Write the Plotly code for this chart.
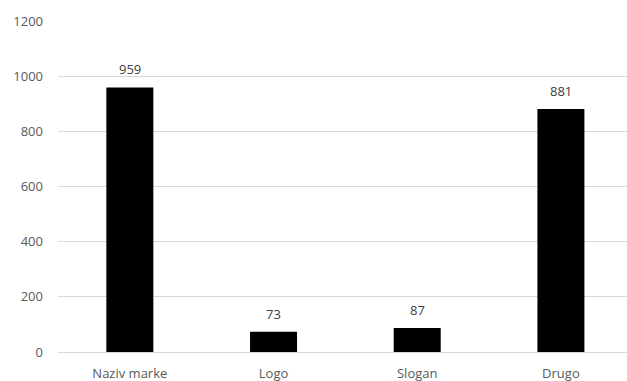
import plotly.graph_objects as go

categories = ["Naziv marke", "Logo", "Slogan", "Drugo"]
values = [959, 73, 87, 881]
y_ticks = [0, 200, 400, 600, 800, 1000, 1200]

fig = go.Figure()
fig.add_trace(go.Bar(
    x=list(range(len(categories))), y=values,
    marker=dict(color="#000000", line=dict(width=0)),
    width=0.327,
))
for i, v in enumerate(values):
    fig.add_annotation(x=i, y=v, text=str(v), showarrow=False,
                       yanchor="bottom", yshift=7,
                       font=dict(family="Open Sans, sans-serif", size=13, color="#404040"))

fig.update_layout(
    width=627, height=381,
    margin=dict(l=58, r=0, t=21, b=29),
    plot_bgcolor="white", paper_bgcolor="white",
    showlegend=False,
    font=dict(family="Open Sans, sans-serif", size=13, color="#595959"),
)
fig.update_xaxes(
    tickmode="array", tickvals=list(range(len(categories))), ticktext=categories,
    range=[-0.5, 3.46], showgrid=False, zeroline=False, showline=False,
    ticks="", ticklabelstandoff=12,
)
fig.update_yaxes(
    range=[0, 1200], tickvals=y_ticks, showgrid=True, gridcolor="#d9d9d9", gridwidth=1,
    zeroline=True, zerolinecolor="#d9d9d9", zerolinewidth=1, showline=False,
    ticks="", ticklabelstandoff=14,
)
fig.write_html("out.html")
